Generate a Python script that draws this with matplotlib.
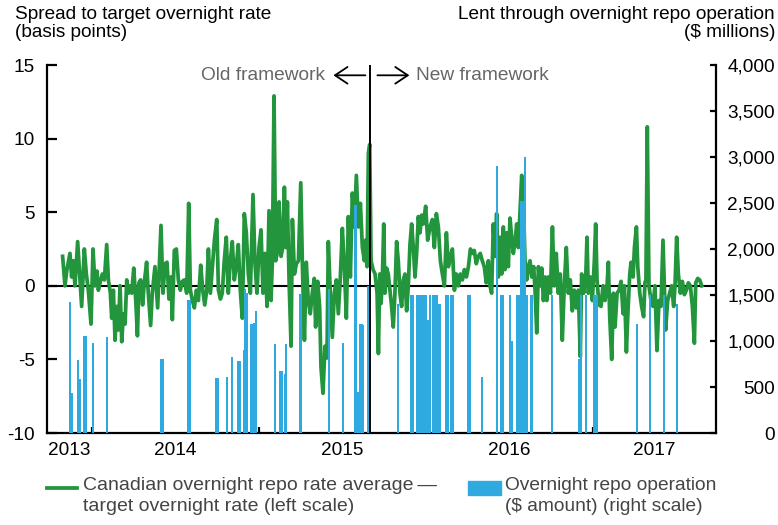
import matplotlib
matplotlib.use('Agg')
import matplotlib.pyplot as plt
from matplotlib.lines import Line2D
from matplotlib.patches import Rectangle
from matplotlib.transforms import offset_copy

plt.rcParams['font.family'] = ['Liberation Sans', 'DejaVu Sans']
plt.rcParams['font.size'] = 13.7
plt.rcParams['axes.unicode_minus'] = False

GREEN = '#23963d'
BLUE = '#2eaae1'

# spread to target overnight rate (bp), dates as decimal years
spread_date = [
    2013.824, 2013.838, 2013.850, 2013.868, 2013.878, 2013.888, 2013.898, 2013.914,
    2013.926, 2013.938, 2013.954, 2013.966, 2013.978, 2013.994, 2014.006, 2014.018,
    2014.030, 2014.038, 2014.048, 2014.062, 2014.074, 2014.088, 2014.098, 2014.110,
    2014.118, 2014.128, 2014.138, 2014.148, 2014.158, 2014.168, 2014.178, 2014.188,
    2014.198, 2014.208, 2014.218, 2014.228, 2014.238, 2014.250, 2014.262, 2014.272,
    2014.281, 2014.291, 2014.303, 2014.313, 2014.327, 2014.337, 2014.351, 2014.361,
    2014.377, 2014.393, 2014.413, 2014.425, 2014.437, 2014.449, 2014.461, 2014.473,
    2014.481, 2014.493, 2014.505, 2014.517, 2014.529, 2014.541, 2014.553, 2014.567,
    2014.579, 2014.589, 2014.601, 2014.613, 2014.625, 2014.637, 2014.651, 2014.663,
    2014.675, 2014.687, 2014.697, 2014.709, 2014.721, 2014.733, 2014.747, 2014.757,
    2014.769, 2014.780, 2014.792, 2014.804, 2014.816, 2014.828, 2014.840, 2014.852,
    2014.864, 2014.876, 2014.888, 2014.900, 2014.912, 2014.924, 2014.936, 2014.948,
    2014.964, 2014.976, 2014.988, 2015.000, 2015.012, 2015.024,
    2015.036, 2015.048, 2015.060, 2015.072, 2015.080, 2015.090, 2015.100, 2015.112,
    2015.120, 2015.132, 2015.142, 2015.152, 2015.162, 2015.170, 2015.180, 2015.192,
    2015.200, 2015.212, 2015.224, 2015.236, 2015.250, 2015.260, 2015.272, 2015.283,
    2015.295, 2015.307, 2015.319, 2015.331, 2015.339, 2015.351, 2015.363, 2015.371,
    2015.383, 2015.395, 2015.407, 2015.415, 2015.427, 2015.439, 2015.451, 2015.463,
    2015.475, 2015.487, 2015.499, 2015.511, 2015.523, 2015.535, 2015.547, 2015.559,
    2015.571, 2015.583, 2015.595, 2015.607, 2015.619, 2015.631, 2015.639, 2015.647,
    2015.655, 2015.663, 2015.671, 2015.683, 2015.695,
    2015.707, 2015.715, 2015.723, 2015.731, 2015.739, 2015.747, 2015.754, 2015.764,
    2015.774, 2015.786, 2015.794, 2015.804, 2015.814, 2015.824, 2015.834, 2015.844,
    2015.854, 2015.864, 2015.874, 2015.884, 2015.894, 2015.904, 2015.914, 2015.924,
    2015.934, 2015.944, 2015.954, 2015.964, 2015.974, 2015.984, 2015.998, 2016.010,
    2016.024, 2016.038, 2016.050, 2016.062, 2016.074, 2016.086, 2016.098, 2016.110,
    2016.122, 2016.134, 2016.146, 2016.158, 2016.170, 2016.182, 2016.194, 2016.206,
    2016.218, 2016.230, 2016.242, 2016.254, 2016.266, 2016.277, 2016.289, 2016.301,
    2016.313, 2016.325, 2016.337, 2016.349, 2016.361, 2016.373,
    2016.383, 2016.393, 2016.403, 2016.413, 2016.423, 2016.433, 2016.443, 2016.453,
    2016.463, 2016.473, 2016.483, 2016.493, 2016.503, 2016.513, 2016.523, 2016.533,
    2016.543, 2016.553, 2016.563, 2016.573, 2016.583, 2016.593, 2016.603, 2016.613,
    2016.623, 2016.633, 2016.645, 2016.653, 2016.663, 2016.673, 2016.683, 2016.693,
    2016.703, 2016.713, 2016.723, 2016.733, 2016.745, 2016.757, 2016.768, 2016.780,
    2016.792, 2016.804, 2016.816, 2016.828, 2016.840, 2016.852, 2016.864, 2016.876,
    2016.888, 2016.900, 2016.912, 2016.924, 2016.932, 2016.944, 2016.956, 2016.964,
    2016.972, 2016.984, 2016.996, 2017.008, 2017.016, 2017.024, 2017.036,
    2017.048, 2017.060, 2017.072, 2017.084, 2017.092, 2017.100, 2017.112, 2017.122,
    2017.132, 2017.144, 2017.156, 2017.168, 2017.180, 2017.188, 2017.200, 2017.208,
    2017.220, 2017.228, 2017.240, 2017.248, 2017.260, 2017.268, 2017.280, 2017.291,
    2017.303, 2017.311, 2017.317, 2017.325, 2017.335, 2017.347, 2017.359, 2017.371,
    2017.383, 2017.395, 2017.407, 2017.419, 2017.427, 2017.435, 2017.447, 2017.459,
    2017.471, 2017.483, 2017.491, 2017.501, 2017.511, 2017.523, 2017.535, 2017.547,
    2017.559, 2017.571, 2017.583, 2017.595, 2017.607, 2017.615, 2017.627, 2017.639,
    2017.651,
]
spread_bp = [
    2.0, 0.0, 1.1, 2.2, 0.6, 1.7, 0.0, 3.0,
    0.8, -1.4, 2.5, 0.8, -0.3, -2.6, 2.5, 0.0,
    1.0, -0.3, 0.2, 0.8, 0.4, 2.8, 0.4, -0.5,
    -2.2, -0.3, -3.7, -1.4, -3.0, 0.0, -3.8, -1.9,
    -2.6, 0.4, -0.5, 0.0, -0.5, 1.2, -1.0, -3.4,
    0.2, 0.4, -1.3, 0.2, 1.6, -0.5, -2.7, -0.5,
    1.3, -1.5, 4.1, -0.5, 1.5, 1.6, -0.9, 0.6,
    -2.3, 2.4, 2.5, 0.4, -0.3, 0.3, 0.4, -0.5,
    5.6, -0.3, -1.0, -1.5, -0.3, -1.0, 1.4, -0.3,
    -1.3, -0.3, 2.5, -0.5, 1.3, 3.1, 4.5, -0.3,
    -0.9, -0.5, 1.7, 3.3, -0.5, 1.7, 3.0, 0.4,
    1.3, 2.8, -0.3, -2.2, 4.9, 3.6, 0.8, -0.5,
    6.2, 1.5, -0.5, 2.6, 3.8, -0.5,
    2.2, -1.4, 5.1, -1.0, 1.7, 12.9, 1.7, 2.4,
    5.7, 2.0, 2.6, 6.7, 2.6, 5.7, 0.4, -4.1,
    4.5, 0.8, 1.5, 1.7, 7.0, 1.3, -3.7, 1.6,
    -1.0, -1.9, -0.5, 0.5, -2.8, 0.3, -1.4, -5.5,
    -7.3, -4.1, -4.9, 3.0, -0.5, -3.5, -0.5, 0.4,
    -1.9, 0.6, 3.9, 1.3, -2.2, 4.7, 0.6, 6.3,
    4.0, 7.5, 4.0, 5.6, 2.6, 1.7, 3.1, 1.3,
    9.0, 9.6, 1.7, 1.1, 0.8,
    -0.5, -4.6, 0.8, -1.2, 0.6, 4.2, -0.5, 1.2,
    0.8, -0.5, -1.4, -2.8, -0.5, 3.0, 1.7, -0.5,
    -1.4, 0.4, 0.8, -1.7, 0.0, 2.8, 4.2, 2.6,
    0.6, 2.2, 4.7, 3.6, 4.8, 4.2, 5.4, 3.1,
    4.0, 4.5, 2.6, 4.9, 4.0, 1.7, 0.8, 0.0,
    3.6, 1.3, 2.0, 2.5, -0.3, 0.8, 0.0, 0.8,
    0.4, 1.1, 0.6, 1.3, 2.5, 2.2, 2.4, 1.5,
    2.0, 2.2, 1.7, 1.3, 0.2, 1.7,
    0.0, -0.5, 4.2, 2.0, 4.9, 0.6, 3.3, 0.8,
    4.0, 1.1, 3.6, 1.3, 4.6, 3.3, 2.2, 3.0,
    4.2, 2.6, 5.1, 7.5, 5.8, 1.7, 0.4, 1.3,
    1.7, 0.6, 1.3, -0.3, -3.2, 1.3, 0.0, 1.2,
    -1.0, 0.6, -1.0, 0.6, -0.5, 4.0, 0.0, 2.2,
    -0.5, 0.8, -3.7, 0.0, 2.6, -0.5, 0.4, -1.7,
    -0.3, -1.5, -0.3, -4.8, 0.8, -0.5, 0.4, 3.3,
    -0.5, 0.6, -1.0, 1.7, 4.2, 0.4, -1.3,
    -1.4, 0.0, -1.0, 0.0, 1.6, -2.1, -5.0, -0.5,
    -2.8, -0.5, -0.3, 0.3, -1.9, 0.0, -4.5, -2.1,
    0.8, 1.6, 0.6, 2.6, 4.0, 1.3, -0.5, -1.4,
    -2.1, 0.2, 0.4, 10.8, 0.0, -1.0, -1.4, 0.0,
    -4.4, -1.0, -1.4, 3.1, 0.0, -3.0, -1.0, -0.5,
    0.0, -1.4, 0.0, 3.3, 0.8, -0.5, 0.3, -0.6,
    -0.3, 0.2, 0.0, -1.4, -3.9, 0.2, 0.5, 0.4,
    0.0,
]

# amount lent through overnight repo operations ($ millions)
repo_date = [
    2013.868, 2013.878, 2013.916, 2013.928, 2013.955, 2013.967, 2014.006, 2014.090,
    2014.411, 2014.423, 2014.575, 2014.587, 2014.743, 2014.754, 2014.808, 2014.840,
    2014.874, 2014.886, 2014.908, 2014.918, 2014.928, 2014.952, 2014.962, 2014.972,
    2014.981, 2015.094, 2015.124, 2015.136, 2015.156, 2015.164, 2015.244, 2015.253,
    2015.417, 2015.503, 2015.572, 2015.583, 2015.595, 2015.605, 2015.615, 2015.625,
    2015.651,
    2015.831, 2015.913, 2015.925, 2015.949, 2015.961, 2015.973, 2015.985, 2015.997,
    2016.010, 2016.021, 2016.039, 2016.051, 2016.063, 2016.075, 2016.084, 2016.117,
    2016.129, 2016.147, 2016.159, 2016.251, 2016.263, 2016.338, 2016.423, 2016.452,
    2016.464, 2016.500, 2016.513, 2016.542, 2016.554, 2016.568, 2016.580, 2016.593,
    2016.602, 2016.626, 2016.635, 2016.753, 2016.919, 2016.927, 2016.960, 2017.003,
    2017.015, 2017.026, 2017.262, 2017.341, 2017.425, 2017.503,
]
repo_amount = [
    1425, 430, 790, 585, 1050, 1050, 975, 1043,
    804, 804, 1446, 1446, 598, 598, 609, 823,
    786, 786, 900, 1560, 1520, 1185, 1185, 1196,
    1330, 964, 670, 670, 638, 971, 1510, 1510,
    1560, 982, 2475, 2475, 446, 1190, 1190, 1175,
    1594,
    1400, 1496, 1496, 1496, 1496, 1496, 1496, 1496,
    1232, 1496, 1496, 1496, 1496, 1400, 1400, 1496,
    1496, 1496, 1496, 1496, 1496, 610, 2898, 1496,
    1496, 1496, 1000, 1496, 1496, 2522, 2522, 3000,
    1496, 1496, 1496, 1496, 800, 1496, 1496, 1496,
    1496, 1496, 1190, 1496, 1496, 1400,
]

framework_change = 2015.667
years = [2013, 2014, 2015, 2016, 2017]
x_start, x_end = 2013.7305, 2017.7365

W, H = 778, 525
fig = plt.figure(figsize=(W / 100, H / 100), dpi=100)
ax = fig.add_axes([47 / W, 1 - 433 / H, (716 - 47) / W, (433 - 65) / H])
ax2 = ax.twinx()

ax.plot(spread_date, spread_bp, color=GREEN, lw=2.7, solid_joinstyle='round')
ax.axhline(0, color='black', lw=1.5, zorder=1)
ax2.bar(repo_date, repo_amount, width=0.012, color=BLUE, linewidth=0, antialiased=False)
ax2.axvline(framework_change, color='black', lw=1.4)

ax.set_xlim(x_start, x_end)
ax.set_ylim(-10, 15)
ax2.set_ylim(0, 4000)

for a in (ax, ax2):
    a.spines['top'].set_visible(False)
    a.spines['bottom'].set_visible(False)
    for s in a.spines.values():
        s.set_linewidth(1.6)
ax.spines['bottom'].set_visible(True)
ax.spines['right'].set_visible(False)
ax2.spines['left'].set_visible(False)

ax.set_yticks(range(-10, 16, 5))
ax.tick_params(axis='y', direction='in', length=7.5, width=1.6, pad=8.6)
ax2.set_yticks(range(0, 4001, 500))
ax2.set_yticklabels([f'{v:,}' for v in range(0, 4001, 500)])
ax2.tick_params(axis='y', direction='in', length=4.5, width=1.6, pad=42.5)
for lbl in ax2.get_yticklabels():
    lbl.set_horizontalalignment('right')

# year boundaries as ticks, year names centred on visible part of each year
ax.set_xticks(years[1:])
ax.set_xticklabels([])
ax.tick_params(axis='x', which='major', direction='in', length=4, width=1.6)
centres = [(max(y, x_start) + min(y + 1, x_end)) / 2 for y in years]
ax.set_xticks(centres, minor=True)
ax.set_xticklabels([str(y) for y in years], minor=True)
ax.tick_params(axis='x', which='minor', length=0, pad=6.5)

# framework annotation
trans = ax.get_xaxis_transform()
ya = 0.972
arrow = dict(arrowstyle='->,head_length=0.45,head_width=0.3', lw=1.3, color='black',
             mutation_scale=20, shrinkA=0, shrinkB=0)
ax.annotate('', xy=(framework_change, ya), xycoords=offset_copy(trans, fig, x=-37, units='dots'),
            xytext=(32, 0), textcoords='offset pixels', arrowprops=arrow)
ax.annotate('', xy=(framework_change, ya), xycoords=offset_copy(trans, fig, x=39, units='dots'),
            xytext=(-32, 0), textcoords='offset pixels', arrowprops=arrow)
ax.annotate('Old framework', xy=(framework_change, ya), xycoords=trans, xytext=(-45, 0),
            textcoords='offset pixels', ha='right', va='center', color='#666666', fontsize=13.8)
ax.annotate('New framework', xy=(framework_change, ya), xycoords=trans, xytext=(46, 0),
            textcoords='offset pixels', ha='left', va='center', color='#666666', fontsize=13.8)

# axis titles
fig.text(15 / W, 1 - 6 / H, 'Spread to target overnight rate\n(basis points)',
         ha='left', va='top', linespacing=1.08)
fig.text(775 / W, 1 - 6 / H, 'Lent through overnight repo operation\n($ millions)',
         ha='right', va='top', linespacing=1.08, multialignment='right')

# legend
fig.add_artist(Line2D([47 / W, 77 / W], [1 - 488 / H, 1 - 488 / H], color=GREEN, lw=2.7))
fig.text(83 / W, 1 - 477 / H,
         'Canadian overnight repo rate average\u2009\u2014\ntarget overnight rate (left scale)',
         ha='left', va='top', linespacing=1.28, color='#444444', fontsize=14)
fig.add_artist(Rectangle((468 / W, 1 - 495 / H), 33 / W, 14 / H, color=BLUE,
                         transform=fig.transFigure))
fig.text(505 / W, 1 - 477 / H,
         'Overnight repo operation\n($ amount) (right scale)',
         ha='left', va='top', linespacing=1.28, color='#444444', fontsize=13.8)

fig.savefig('out.png', dpi=100)
